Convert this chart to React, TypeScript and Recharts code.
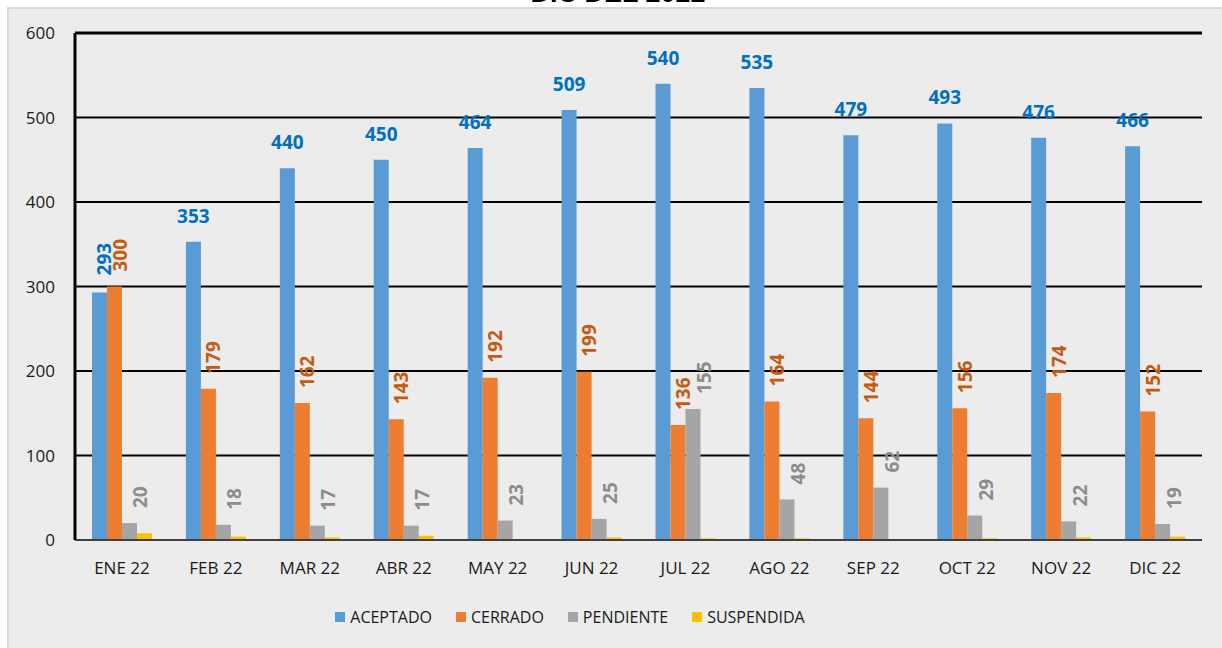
import React from 'react';
import {
  BarChart,
  Bar,
  XAxis,
  YAxis,
  CartesianGrid,
  LabelList,
  ReferenceLine,
} from 'recharts';

// month categories and series values
const months = ['ENE 22', 'FEB 22', 'MAR 22', 'ABR 22', 'MAY 22', 'JUN 22', 'JUL 22', 'AGO 22', 'SEP 22', 'OCT 22', 'NOV 22', 'DIC 22'];
const aceptado = [293, 353, 440, 450, 464, 509, 540, 535, 479, 493, 476, 466];
const cerrado = [300, 179, 162, 143, 192, 199, 136, 164, 144, 156, 174, 152];
const pendiente = [20, 18, 17, 17, 23, 25, 155, 48, 62, 29, 22, 19];
const suspendida = [8, 4, 3, 5, 1, 3, 2, 2, 1, 2, 3, 4];
const yTicks = [0, 100, 200, 300, 400, 500, 600];

const FONT = '"Open Sans", "Noto Sans", sans-serif';

const SERIES = [
  { key: 'aceptado', name: 'ACEPTADO', color: '#5b9bd5' },
  { key: 'cerrado', name: 'CERRADO', color: '#ed7d31' },
  { key: 'pendiente', name: 'PENDIENTE', color: '#a5a5a5' },
  { key: 'suspendida', name: 'SUSPENDIDA', color: '#ffc000' },
];

const data = months.map((m, i) => ({
  month: m,
  aceptado: aceptado[i],
  cerrado: cerrado[i],
  pendiente: pendiente[i],
  suspendida: suspendida[i],
}));

// blue labels sit flat above the bar, except the first one which is turned
const BlueLabel = (p: any) => {
  const cx = p.x + p.width / 2;
  if (p.index === 0) {
    return (
      <text
        x={cx + 5}
        y={p.y - 17}
        transform={`rotate(-90 ${cx + 5} ${p.y - 17})`}
        textAnchor="start"
        dominantBaseline="central"
        fill="#0070c0"
        fontSize={19}
        fontWeight="bold"
        fontFamily={FONT}
      >
        {p.value}
      </text>
    );
  }
  return (
    <text x={cx} y={p.y - 19} textAnchor="middle" fill="#0070c0" fontSize={19} fontWeight="bold" fontFamily={FONT}>
      {p.value}
    </text>
  );
};

const rotatedLabel = (color: string, dx: number, weight: string) => (p: any) => {
  const lx = p.x + p.width / 2 + dx;
  const ly = p.y - 15;
  return (
    <text
      x={lx}
      y={ly}
      transform={`rotate(-90 ${lx} ${ly})`}
      textAnchor="start"
      dominantBaseline="central"
      fill={color}
      fontSize={19}
      fontWeight={weight}
      fontFamily={FONT}
    >
      {p.value}
    </text>
  );
};

export default function App() {
  return (
    <div style={{ position: 'absolute', left: 0, top: 0, width: 1222, height: 648, background: '#fff', overflow: 'hidden', fontFamily: FONT }}>
      <div
        style={{
          position: 'absolute',
          left: 0,
          top: -20,
          width: 1236,
          textAlign: 'center',
          fontSize: 27,
          lineHeight: '27px',
          fontWeight: 'bold',
          fontFamily: '"Liberation Sans", sans-serif',
          color: '#000',
        }}
      >
        DIC DEL 2022
      </div>
      <div
        style={{
          position: 'absolute',
          left: 7,
          top: 7,
          width: 1220,
          height: 650,
          background: '#ececec',
          border: '2px solid #d9d9d9',
        }}
      />
      <div style={{ position: 'absolute', left: 0, top: 0 }}>
        <BarChart
          width={1222}
          height={648}
          data={data}
          margin={{ top: 33, right: 20, left: 15, bottom: 78 }}
          barSize={15}
          barGap={0}
        >
          <CartesianGrid horizontal vertical={false} stroke="#000" strokeWidth={2} />
          <XAxis
            dataKey="month"
            axisLine={{ stroke: '#404040', strokeWidth: 2 }}
            tickLine={false}
            height={30}
            tickMargin={16}
            tick={{ fill: '#1a1a1a', fontSize: 17, fontFamily: FONT }}
            interval={0}
          />
          <YAxis
            domain={[0, 600]}
            ticks={yTicks}
            width={60}
            axisLine={{ stroke: '#000', strokeWidth: 3 }}
            tickLine={false}
            tickMargin={14}
            tick={{ fill: '#1a1a1a', fontSize: 17, fontFamily: FONT }}
            interval={0}
          />
          <YAxis
            yAxisId="right"
            orientation="right"
            domain={[0, 600]}
            width={0}
            tick={false}
            tickLine={false}
            axisLine={{ stroke: '#000', strokeWidth: 3 }}
          />
          <ReferenceLine y={600} stroke="#000" strokeWidth={3} />
          <Bar dataKey="aceptado" name="ACEPTADO" fill="#5b9bd5" isAnimationActive={false}>
            <LabelList dataKey="aceptado" content={BlueLabel} />
          </Bar>
          <Bar dataKey="cerrado" name="CERRADO" fill="#ed7d31" isAnimationActive={false}>
            <LabelList dataKey="cerrado" content={rotatedLabel('#c55a11', 5, 'bold')} />
          </Bar>
          <Bar dataKey="pendiente" name="PENDIENTE" fill="#a5a5a5" isAnimationActive={false}>
            <LabelList dataKey="pendiente" content={rotatedLabel('#8c8c8c', 11, 'bold')} />
          </Bar>
          <Bar dataKey="suspendida" name="SUSPENDIDA" fill="#ffc000" isAnimationActive={false} />
        </BarChart>
      </div>
      <div
        style={{
          position: 'absolute',
          left: 0,
          top: 606,
          width: 1140,
          display: 'flex',
          justifyContent: 'center',
          gap: 24,
          fontSize: 16,
          lineHeight: '22px',
          color: '#1a1a1a',
        }}
      >
        {SERIES.map((s) => (
          <div key={s.key} style={{ display: 'flex', alignItems: 'center', gap: 5 }}>
            <span style={{ display: 'inline-block', width: 10, height: 10, background: s.color }} />
            <span>{s.name}</span>
          </div>
        ))}
      </div>
    </div>
  );
}
